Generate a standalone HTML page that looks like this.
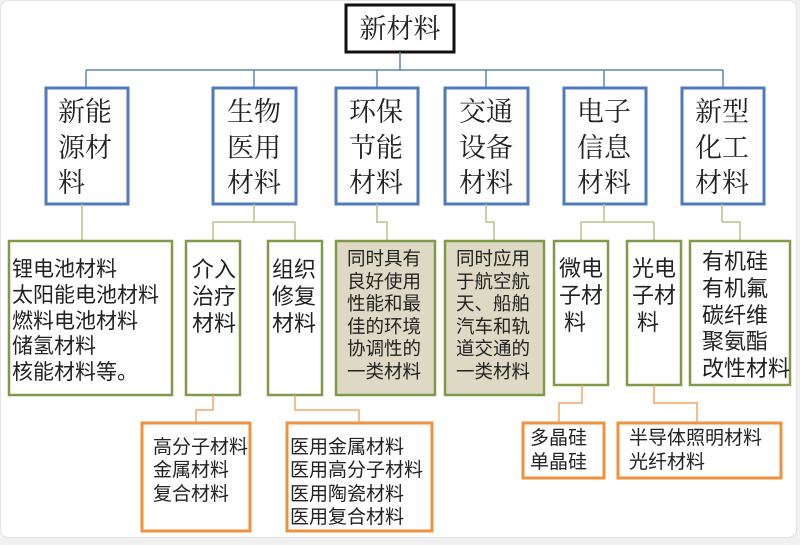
<!DOCTYPE html>
<html><head><meta charset="utf-8"><style>
html,body{margin:0;padding:0;background:#f1f1f1;}
svg{display:block;font-family:"Liberation Sans","Noto Sans CJK SC",sans-serif;}
.serif{font-family:"Liberation Serif","Noto Serif CJK SC",serif;}
</style></head><body>
<svg width="800" height="545" viewBox="0 0 800 545" xmlns="http://www.w3.org/2000/svg">
<rect x="0.5" y="0.5" width="796" height="537" rx="8" fill="#fff" stroke="#e4e4e4"/>
<rect x="346" y="5" width="108" height="47" fill="#fff" stroke="#111" stroke-width="3"/>
<text class="serif" x="400" y="38" font-size="27" text-anchor="middle" fill="#222">新材料</text>
<g stroke="#5b85b8" stroke-width="1.5" fill="none">
<path d="M400 52V70M86 70H723M86 70V87M254 70V87M377 70V87M486 70V87M604 70V87M723 70V87"/>
</g>
<g fill="#fff" stroke="#4f7bbd" stroke-width="3">
<rect x="46" y="88" width="82" height="116"/>
<rect x="213" y="88" width="83" height="116"/>
<rect x="336" y="88" width="82" height="116"/>
<rect x="445" y="88" width="83" height="116"/>
<rect x="564" y="88" width="82" height="116"/>
<rect x="682" y="88" width="82" height="116"/>
</g>
<g class="serif" font-size="27" fill="#222">
<text x="58" y="121">新能</text><text x="58" y="157">源材</text><text x="58" y="192">料</text>
<text x="227" y="121">生物</text><text x="227" y="157">医用</text><text x="227" y="192">材料</text>
<text x="349" y="121">环保</text><text x="349" y="157">节能</text><text x="349" y="192">材料</text>
<text x="459" y="121">交通</text><text x="459" y="157">设备</text><text x="459" y="192">材料</text>
<text x="577" y="121">电子</text><text x="577" y="157">信息</text><text x="577" y="192">材料</text>
<text x="695" y="121">新型</text><text x="695" y="157">化工</text><text x="695" y="192">材料</text>
</g>
<g stroke="#b5c48a" stroke-width="1.5" fill="none">
<path d="M82 204V241M254 204V222M213 222H295M213 222V241M295 222V241M377 204V222H387V241M486 204V222H494V241M604 204V222M581 222H654M581 222V241M654 222V241M722 204V222H740V241"/>
</g>
<g stroke="#7f9a48" stroke-width="2.5">
<rect x="9" y="241" width="163" height="154" fill="#fff"/>
<rect x="186" y="241" width="54" height="154" fill="#fff"/>
<rect x="268" y="241" width="54" height="154" fill="#fff"/>
<rect x="336" y="241" width="99" height="154" fill="#ddd9c4"/>
<rect x="445" y="241" width="99" height="154" fill="#ddd9c4"/>
<rect x="554" y="241" width="54" height="144" fill="#fff"/>
<rect x="627" y="241" width="54" height="144" fill="#fff"/>
<rect x="690" y="241" width="100" height="144" fill="#fff"/>
</g>
<g font-size="21" fill="#222">
<text x="12" y="276">锂电池材料</text>
<text x="12" y="302">太阳能电池材料</text>
<text x="12" y="328">燃料电池材料</text>
<text x="12" y="353">储氢材料</text>
<text x="12" y="379">核能材料等。</text>
</g>
<g font-size="22" fill="#222">
<text x="192" y="277">介入</text><text x="192" y="304">治疗</text><text x="192" y="331">材料</text>
<text x="272" y="277">组织</text><text x="272" y="304">修复</text><text x="272" y="331">材料</text>
<text x="559" y="276">微电</text><text x="559" y="303">子材</text><text x="564" y="330">料</text>
<text x="632" y="276">光电</text><text x="632" y="303">子材</text><text x="637" y="330">料</text>
<text x="702" y="269">有机硅</text><text x="702" y="296">有机氟</text><text x="702" y="323">碳纤维</text><text x="702" y="349">聚氨酯</text><text x="702" y="376">改性材料</text>
</g>
<g font-size="18.5" fill="#222">
<text x="347" y="265">同时具有</text><text x="347" y="288">良好使用</text><text x="347" y="310">性能和最</text><text x="347" y="333">佳的环境</text><text x="347" y="355">协调性的</text><text x="347" y="378">一类材料</text>
<text x="456" y="265">同时应用</text><text x="456" y="288">于航空航</text><text x="456" y="310">天、船舶</text><text x="456" y="333">汽车和轨</text><text x="456" y="355">道交通的</text><text x="456" y="378">一类材料</text>
</g>
<g stroke="#f0a867" stroke-width="1.5" fill="none">
<path d="M213 395V410H196V423M295 395V410H359V423M582 385V403H559V423M654 385V403H697V423"/>
</g>
<g fill="#fff" stroke="#f0913e" stroke-width="3">
<rect x="142" y="423" width="108" height="108"/>
<rect x="287" y="423" width="145" height="108"/>
<rect x="523" y="423" width="81" height="55"/>
<rect x="618" y="423" width="163" height="55"/>
</g>
<g font-size="19" fill="#222">
<text x="153" y="453">高分子材料</text><text x="153" y="476">金属材料</text><text x="153" y="500">复合材料</text>
<text x="290" y="453">医用金属材料</text><text x="290" y="476">医用高分子材料</text><text x="290" y="500">医用陶瓷材料</text><text x="290" y="523">医用复合材料</text>
<text x="530" y="444">多晶硅</text><text x="530" y="468">单晶硅</text>
<text x="629" y="444">半导体照明材料</text><text x="629" y="468">光纤材料</text>
</g>
</svg>
</body></html>
